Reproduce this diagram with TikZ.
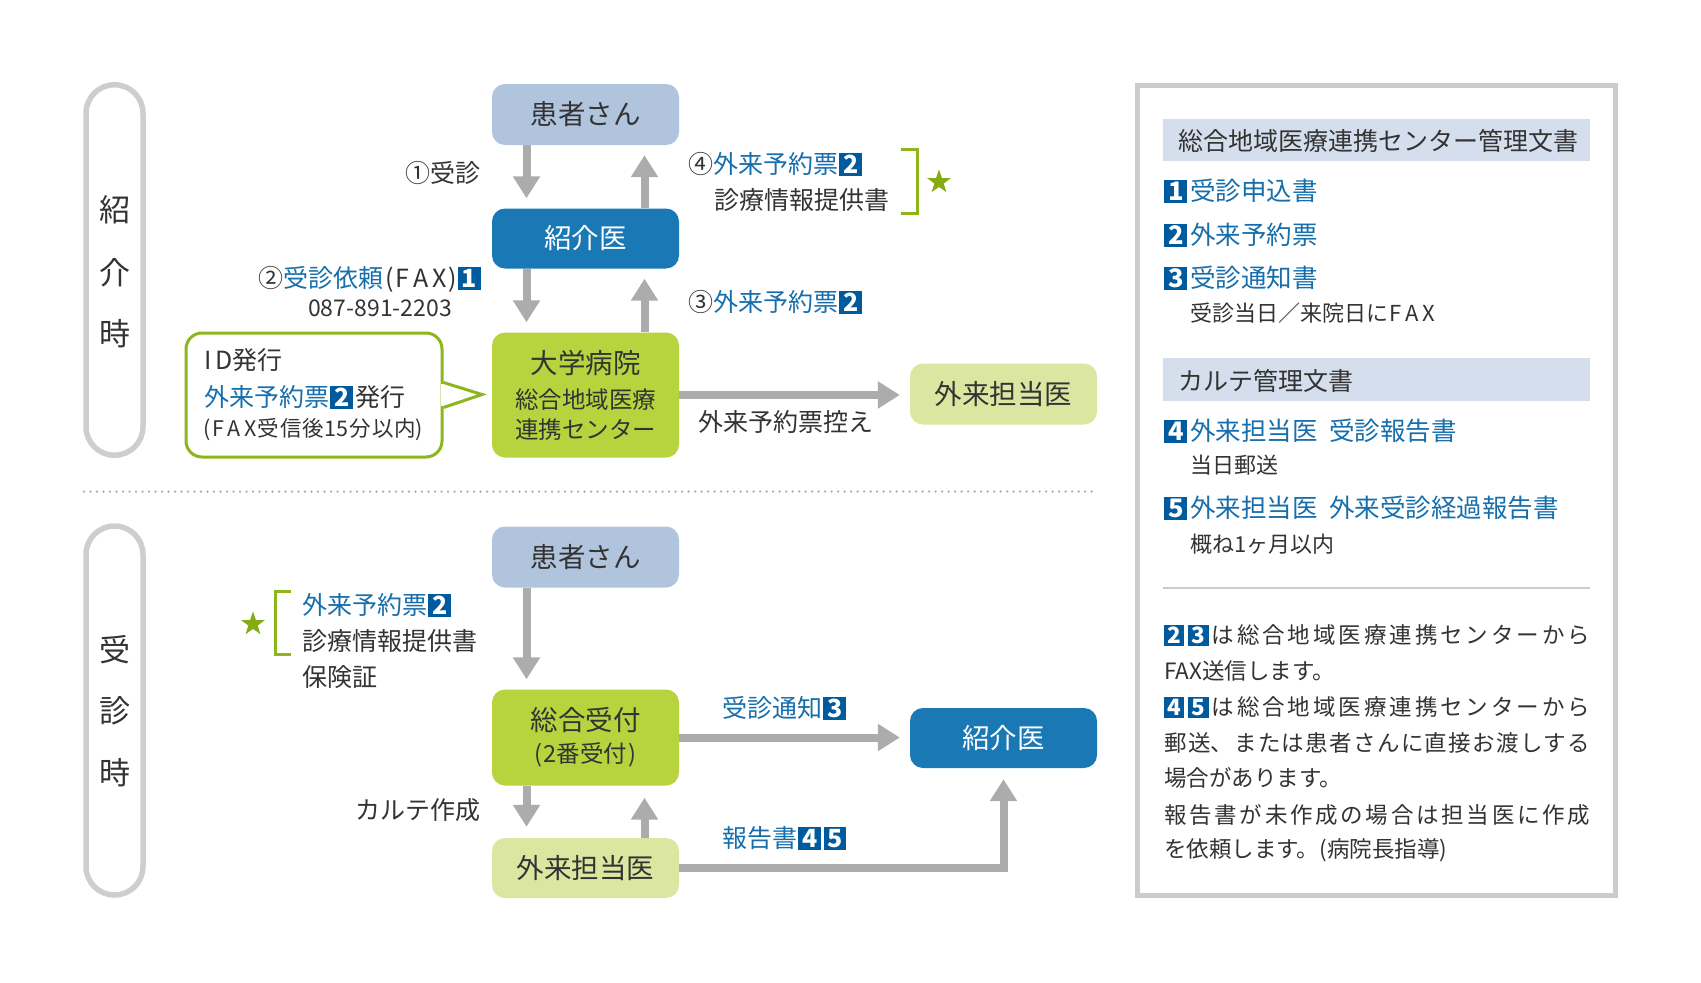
\documentclass[tikz,border=0pt]{standalone}
\usepackage{fontspec}
\setmainfont{Noto Sans CJK JP}
\usetikzlibrary{arrows.meta,shapes.geometric,calc}
\definecolor{txt}{RGB}{51,51,51}
\definecolor{patblue}{RGB}{177,196,222}
\definecolor{refblue}{RGB}{26,121,181}
\definecolor{unigreen}{RGB}{183,212,62}
\definecolor{outgreen}{RGB}{219,231,161}
\definecolor{arrowgray}{RGB}{172,172,172}
\definecolor{pillgray}{RGB}{206,206,206}
\definecolor{idgreen}{RGB}{141,182,30}
\definecolor{stargreen}{RGB}{132,172,18}
\definecolor{numblue}{RGB}{0,90,158}
\definecolor{txtblue}{RGB}{22,110,172}
\definecolor{headbg}{RGB}{213,222,236}
\definecolor{dotgray}{RGB}{170,170,170}
\definecolor{panelgray}{RGB}{204,204,204}

\newcommand\fsz[1]{\fontsize{#1}{#1}\selectfont}
\newcommand\nbx[1]{\textcolor{numblue}{\rule[-0.1em]{0.9em}{0.92em}}\hspace{-0.9em}\makebox[0.9em]{\textcolor{white}{\bfseries #1}}}
\newcommand\nb[1]{\kern0.05em\nbx{#1}\kern0.12em}
\newcommand\bt[1]{\textcolor{txtblue}{#1}}
\newcommand\fax{\kern0.08em F\kern0.16em A\kern0.16em X\kern0.06em}
\newcommand\jbox[2]{\parbox{#1}{\XeTeXlinebreaklocale "ja"\XeTeXlinebreakskip=0pt plus 6pt\relax\parfillskip=0pt\relax #2}}
\newcommand\jline[1]{\jbox{426pt}{#1}}

\begin{document}
\begin{tikzpicture}[x=1pt,y=-1pt,
 box/.style={rounded corners=13pt, minimum width=187pt, inner sep=0pt, align=center, text=txt, font=\fsz{27.5}},
 patbox/.style={box, fill=patblue, minimum height=61pt},
 refbox/.style={box, fill=refblue, text=white, minimum height=60pt},
 unibox/.style={box, fill=unigreen},
 outbox/.style={box, fill=outgreen, minimum height=61pt},
 flow/.style={draw=arrowgray, line width=8pt, -{Triangle[length=22pt 0 0, width=26pt 0 0]}},
 lbl/.style={inner sep=0pt, text=txt, font=\fsz{25}},
 item/.style={inner sep=0pt, anchor=west, text=txt, font=\fsz{25.5}},
 pill/.style={draw=pillgray, line width=5.5pt, rounded corners=28.5pt, minimum width=57pt, inner sep=0pt},
 pilltxt/.style={inner sep=0pt, text=txt, font=\fsz{31}},
 brk/.style={draw=idgreen, line width=3pt},
 starnode/.style={star, star points=5, star point ratio=2.55, fill=stargreen, minimum size=25pt, inner sep=0pt},
 ptxt/.style={inner sep=0pt, anchor=west, text=txt, font=\fsz{22.5}},
 subtxt/.style={inner sep=0pt, anchor=west, text=txt, font=\fsz{22}},
]
\fill[white] (0,0) rectangle (1701,983);
\useasboundingbox (0,0) rectangle (1701,983);

% ---------- left pills ----------
\node[pill, minimum height=370.5pt] (pill1) at (114.5,270) {};
\node[pill, minimum height=369pt] (pill2) at (114.5,710.5) {};
\node[pilltxt] (pa) at (114.5,210) {紹};
\node[pilltxt] (pb) at (114.5,273) {介};
\node[pilltxt] (pc) at (114.5,334) {時};
\node[pilltxt] (pd) at (114.5,650) {受};
\node[pilltxt] (pe) at (114.5,711) {診};
\node[pilltxt] (pf) at (114.5,773) {時};

% ---------- top flow ----------
\node[patbox] (pat1) at (585.5,114.5) {患者さん};
\node[refbox] (ref1) at (585.5,238.5) {紹介医};
\node[unibox, minimum height=125pt] (uni) at (585.5,395) {};
\node[inner sep=0pt, text=txt, font=\fsz{27.5}] (unia) at (585.5,363) {大学病院};
\node[inner sep=0pt, text=txt, font=\fsz{23.5}] (unib) at (585.5,400) {総合地域医療};
\node[inner sep=0pt, text=txt, font=\fsz{23.5}] (unic) at (585.5,430) {連携センター};
\node[outbox] (out1) at (1003.5,394) {外来担当医};

\draw[flow, shorten >=10pt] ($(pat1.south)+(-59,0)$) -- ($(ref1.north)+(-59,0)$);
\draw[flow, shorten >=10pt] ($(ref1.north)+(59,0)$) -- ($(pat1.south)+(59,0)$);
\draw[flow, shorten >=10pt] ($(ref1.south)+(-59,0)$) -- ($(uni.north)+(-59,0)$);
\draw[flow, shorten >=10pt] ($(uni.north)+(59,0)$) -- ($(ref1.south)+(59,0)$);
\draw[flow, shorten >=10pt] (uni.east) -- (uni.east -| out1.west);

\node[lbl, anchor=east] (l1) at (481,173) {①受診};
\node[lbl, anchor=east] (l2) at (481,279) {②\bt{受診依頼}\kern2pt(\fax)\nb{1}\kern-0.12em};
\node[lbl, font=\fsz{23}] (l2b) at (380,308) {087-891-2203};
\node[lbl, anchor=west] (l3) at (688,302) {③\bt{外来予約票}\nb{2}};
\node[lbl, anchor=west] (l4) at (688,164) {④\bt{外来予約票}\nb{2}};
\node[lbl, anchor=west] (l4b) at (714,200) {診療情報提供書};
\node[lbl, anchor=west] (l5) at (698,422) {外来予約票控え};
\draw[brk] (901,149) -- (917,149) -- (917,213) -- (901,213);
\node[starnode] (star1) at (939,182) {};

% ID box
\node[draw=idgreen, line width=3pt, fill=white, rounded corners=16pt, minimum width=256pt, minimum height=124pt, inner sep=0pt] (idb) at (314,395) {};
\fill[white] ($(idb.east)+(-3,-11)$) rectangle ($(idb.east)+(3,11)$);
\coordinate (idtip) at (482,394.5);
\draw[brk, line join=miter] ($(idb.east)+(0,-12.5)$) -- (idtip) -- ($(idb.east)+(0,12.5)$);
\node[lbl, anchor=west] (id1) at (204,360) {I\kern4pt D発行};
\node[lbl, anchor=west] (id2) at (204,397) {\bt{外来予約票}\nb{2}発行};
\node[lbl, anchor=west, font=\fsz{21.5}] (id3) at (203,430) {\jbox{220pt}{(\fax 受信後15分以内)}};

% divider
\draw[dotgray, line width=2.5pt, line cap=round, dash pattern=on 0pt off 6.5pt] (84,491.5) -- (1097,491.5);

% ---------- bottom flow ----------
\node[patbox] (pat2) at (585.5,557) {患者さん};
\node[unibox, minimum height=96pt] (rec) at (585.5,737.5) {};
\node[inner sep=0pt, text=txt, font=\fsz{27.5}] (reca) at (585.5,720) {総合受付};
\node[inner sep=0pt, text=txt, font=\fsz{23.5}] (recb) at (585.5,755) {(\kern1pt 2番受付\kern1pt)};
\node[refbox] (ref2) at (1003.5,738) {紹介医};
\node[outbox, minimum height=60pt] (out2) at (585.5,868) {外来担当医};

\draw[flow, shorten >=10pt] ($(pat2.south)+(-59,0)$) -- ($(rec.north)+(-59,0)$);
\draw[flow, shorten >=10pt] (rec.east) -- (rec.east -| ref2.west);
\draw[flow, shorten >=11pt] ($(rec.south)+(-59,0)$) -- ($(out2.north)+(-59,0)$);
\draw[flow, shorten >=12pt] ($(out2.north)+(59,0)$) -- ($(rec.south)+(59,0)$);
\draw[flow, shorten >=11pt] (out2.east) -- (out2.east -| ref2.south) -- (ref2.south);

\node[starnode] (star2) at (253,624) {};
\draw[brk] (291,591) -- (275,591) -- (275,654) -- (291,654);
\node[lbl, anchor=west] (b1) at (302,605) {\bt{外来予約票}\nb{2}};
\node[lbl, anchor=west] (b2) at (302,641) {診療情報提供書};
\node[lbl, anchor=west] (b3) at (302,677) {保険証};
\node[lbl, anchor=east] (b4) at (481,810) {カルテ作成};
\node[lbl, anchor=west] (b5) at (722,708) {\bt{受診通知}\nb{3}};
\node[lbl, anchor=west] (b6) at (722,838) {\bt{報告書}\nb{4}\kern-0.05em\nb{5}};

% ---------- right panel ----------
\draw[panelgray, line width=5pt] (1137.5,85) rectangle (1615.5,895.8);
\fill[headbg] (1163,119) rectangle (1590,161);
\node[lbl, anchor=west] (h1) at (1178,141) {総合地域医療連携センター管理文書};
\node[item] (i1) at (1163,191) {\nb{1}\bt{受診申込書}};
\node[item] (i2) at (1163,235) {\nb{2}\bt{外来予約票}};
\node[item] (i3) at (1163,278) {\nb{3}\bt{受診通知書}};
\node[subtxt] (s3) at (1190,313) {受診当日／来院日に\fax};
\fill[headbg] (1163,358) rectangle (1590,401);
\node[lbl, anchor=west] (h2) at (1178,381) {カルテ管理文書};
\node[item] (i4) at (1163,431) {\nb{4}\bt{外来担当医\hspace{0.45em}受診報告書}};
\node[subtxt] (s4) at (1190,465) {当日郵送};
\node[item] (i5) at (1163,508) {\nb{5}\bt{外来担当医\hspace{0.45em}外来受診経過報告書}};
\node[subtxt] (s5) at (1190,544) {概ね1ヶ月以内};
\draw[panelgray, line width=2pt] (1163,588) -- (1590,588);

\node[ptxt] (p1) at (1164,635) {\jline{\nbx{2}\kern4pt\nbx{3}\kern3pt は総合地域医療連携センターから}};
\node[ptxt] (p2) at (1164,671) {FAX送信します。};
\node[ptxt] (p3) at (1164,707) {\jline{\nbx{4}\kern4pt\nbx{5}\kern3pt は総合地域医療連携センターから}};
\node[ptxt] (p4) at (1164,743) {\jline{郵送、または患者さんに直接お渡しする}};
\node[ptxt] (p5) at (1164,778) {場合があります。};
\node[ptxt] (p6) at (1164,815) {\jline{報告書が未作成の場合は担当医に作成}};
\node[ptxt] (p7) at (1164,850) {を依頼します。(病院長指導)};
\end{tikzpicture}
\end{document}
